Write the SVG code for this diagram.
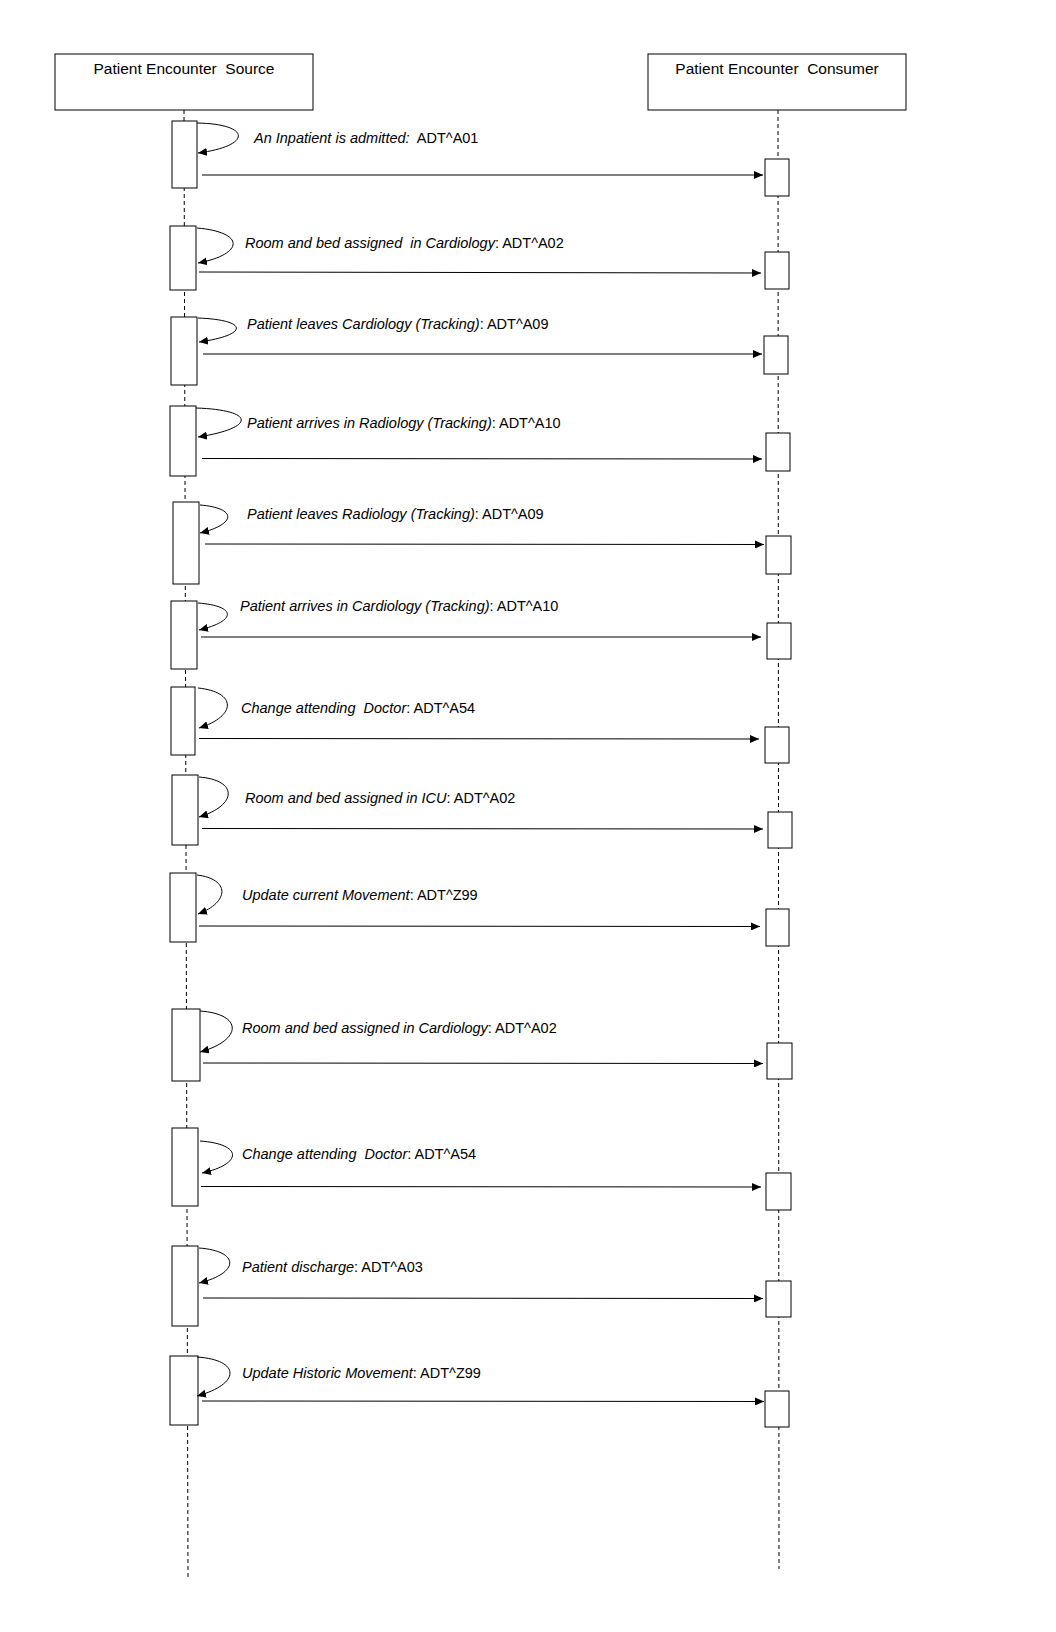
<svg xmlns="http://www.w3.org/2000/svg" width="1056" height="1632" viewBox="0 0 1056 1632">
<style>
.box{fill:#fff;stroke:#000;stroke-width:1}
.life{stroke:#000;stroke-width:1;stroke-dasharray:4 3;fill:none}
.msg{stroke:#000;stroke-width:1;fill:none;marker-end:url(#ah)}
.loop{stroke:#000;stroke-width:1;fill:none;marker-end:url(#ah)}
.hdr{font-family:"Liberation Sans",Arial,sans-serif;font-size:15.5px;fill:#000;text-anchor:middle;white-space:pre}
.lbl{font-family:"Liberation Sans",Arial,sans-serif;font-size:14.5px;fill:#000;white-space:pre}
.it{font-style:italic}
</style>
<defs>
<marker id="ah" markerUnits="userSpaceOnUse" markerWidth="10" markerHeight="8" refX="9" refY="4" orient="auto"><path d="M0,0 L9,4 L0,8 z" fill="#000"/></marker>
</defs>
<rect width="1056" height="1632" fill="#fff"/>
<g id="lifelines">
<line class="life" x1="184" y1="110" x2="188" y2="1577"/>
<line class="life" x1="778" y1="110" x2="779" y2="1569"/>
</g>
<g id="source"><rect class="box" x="55" y="54" width="258" height="56"/><text class="hdr" x="184" y="74">Patient Encounter  Source</text></g>
<g id="consumer"><rect class="box" x="648" y="54" width="258" height="56"/><text class="hdr" x="777" y="74">Patient Encounter  Consumer</text></g>
<g id="activations-source">
<rect id="s1" class="box" x="172" y="121" width="25" height="67"/>
<rect id="s2" class="box" x="170" y="226" width="26" height="64"/>
<rect id="s3" class="box" x="171" y="317" width="26" height="68"/>
<rect id="s4" class="box" x="170" y="406" width="26" height="70"/>
<rect id="s5" class="box" x="173" y="502" width="26" height="82"/>
<rect id="s6" class="box" x="171" y="601" width="26" height="68"/>
<rect id="s7" class="box" x="171" y="687" width="24" height="68"/>
<rect id="s8" class="box" x="172" y="775" width="26" height="70"/>
<rect id="s9" class="box" x="170" y="873" width="26" height="69"/>
<rect id="s10" class="box" x="172" y="1009" width="28" height="72"/>
<rect id="s11" class="box" x="172" y="1128" width="26" height="78"/>
<rect id="s12" class="box" x="172" y="1246" width="26" height="80"/>
<rect id="s13" class="box" x="170" y="1356" width="28" height="69"/>
</g>
<g id="activations-consumer">
<rect id="c1" class="box" x="765" y="159" width="24" height="37"/>
<rect id="c2" class="box" x="765" y="252" width="24" height="37"/>
<rect id="c3" class="box" x="764" y="336" width="24" height="38"/>
<rect id="c4" class="box" x="766" y="433" width="24" height="38"/>
<rect id="c5" class="box" x="766" y="536" width="25" height="38"/>
<rect id="c6" class="box" x="767" y="623" width="24" height="36"/>
<rect id="c7" class="box" x="765" y="727" width="24" height="36"/>
<rect id="c8" class="box" x="768" y="812" width="24" height="36"/>
<rect id="c9" class="box" x="766" y="909" width="23" height="37"/>
<rect id="c10" class="box" x="767" y="1043" width="25" height="36"/>
<rect id="c11" class="box" x="766" y="1173" width="25" height="37"/>
<rect id="c12" class="box" x="766" y="1281" width="25" height="36"/>
<rect id="c13" class="box" x="765" y="1391" width="24" height="36"/>
</g>
<g id="connectors">
<path class="loop" d="M197,123 C252,124 252,146 198,153"/>
<path class="loop" d="M197,228 C245,232 245,254 198,263"/>
<path class="loop" d="M198,318 C249,320 249,335 199,342"/>
<path class="loop" d="M196,408 C256,410 256,428 198,437"/>
<path class="loop" d="M200,505 C237,508 237,524 200,533"/>
<path class="loop" d="M198,603 C237,606 237,621 199,630"/>
<path class="loop" d="M198,688 C237,692 237,716 199,728"/>
<path class="loop" d="M199,777 C238,780 238,805 199,817"/>
<path class="loop" d="M197,875 C230,879 230,902 198,914"/>
<path class="loop" d="M200,1011 C243,1014 243,1040 200,1052"/>
<path class="loop" d="M200,1141 C243,1144 243,1164 202,1173"/>
<path class="loop" d="M199,1248 C240,1251 240,1273 199,1283"/>
<path class="loop" d="M197,1357 C241,1360 241,1384 197,1396"/>
<line class="msg" x1="202" y1="175" x2="763" y2="175"/>
<line class="msg" x1="199" y1="272" x2="761" y2="273"/>
<line class="msg" x1="203" y1="354" x2="762" y2="354"/>
<line class="msg" x1="202" y1="458.5" x2="762" y2="459"/>
<line class="msg" x1="205" y1="544" x2="764" y2="544.5"/>
<line class="msg" x1="201" y1="637" x2="761" y2="637"/>
<line class="msg" x1="199" y1="738.5" x2="759" y2="739"/>
<line class="msg" x1="202" y1="828.5" x2="763" y2="829"/>
<line class="msg" x1="199" y1="926" x2="760" y2="926.5"/>
<line class="msg" x1="203" y1="1063" x2="763" y2="1063.5"/>
<line class="msg" x1="201" y1="1186.5" x2="761" y2="1187"/>
<line class="msg" x1="203" y1="1298" x2="763" y2="1298.5"/>
<line class="msg" x1="202" y1="1401" x2="764" y2="1401.5"/>
</g>
<g id="labels">
<text class="lbl" x="254" y="143"><tspan class="it">An Inpatient is admitted:</tspan>  ADT^A01</text>
<text class="lbl" x="245" y="248"><tspan class="it">Room and bed assigned  in Cardiology</tspan>: ADT^A02</text>
<text class="lbl" x="247" y="329"><tspan class="it">Patient leaves Cardiology (Tracking)</tspan>: ADT^A09</text>
<text class="lbl" x="247" y="428"><tspan class="it">Patient arrives in Radiology (Tracking)</tspan>: ADT^A10</text>
<text class="lbl" x="247" y="519"><tspan class="it">Patient leaves Radiology (Tracking)</tspan>: ADT^A09</text>
<text class="lbl" x="240" y="611"><tspan class="it">Patient arrives in Cardiology (Tracking)</tspan>: ADT^A10</text>
<text class="lbl" x="241" y="713"><tspan class="it">Change attending  Doctor</tspan>: ADT^A54</text>
<text class="lbl" x="245" y="803"><tspan class="it">Room and bed assigned in ICU</tspan>: ADT^A02</text>
<text class="lbl" x="242" y="900"><tspan class="it">Update current Movement</tspan>: ADT^Z99</text>
<text class="lbl" x="242" y="1033"><tspan class="it">Room and bed assigned in Cardiology</tspan>: ADT^A02</text>
<text class="lbl" x="242" y="1159"><tspan class="it">Change attending  Doctor</tspan>: ADT^A54</text>
<text class="lbl" x="242" y="1272"><tspan class="it">Patient discharge</tspan>: ADT^A03</text>
<text class="lbl" x="242" y="1378"><tspan class="it">Update Historic Movement</tspan>: ADT^Z99</text>
</g>
</svg>
